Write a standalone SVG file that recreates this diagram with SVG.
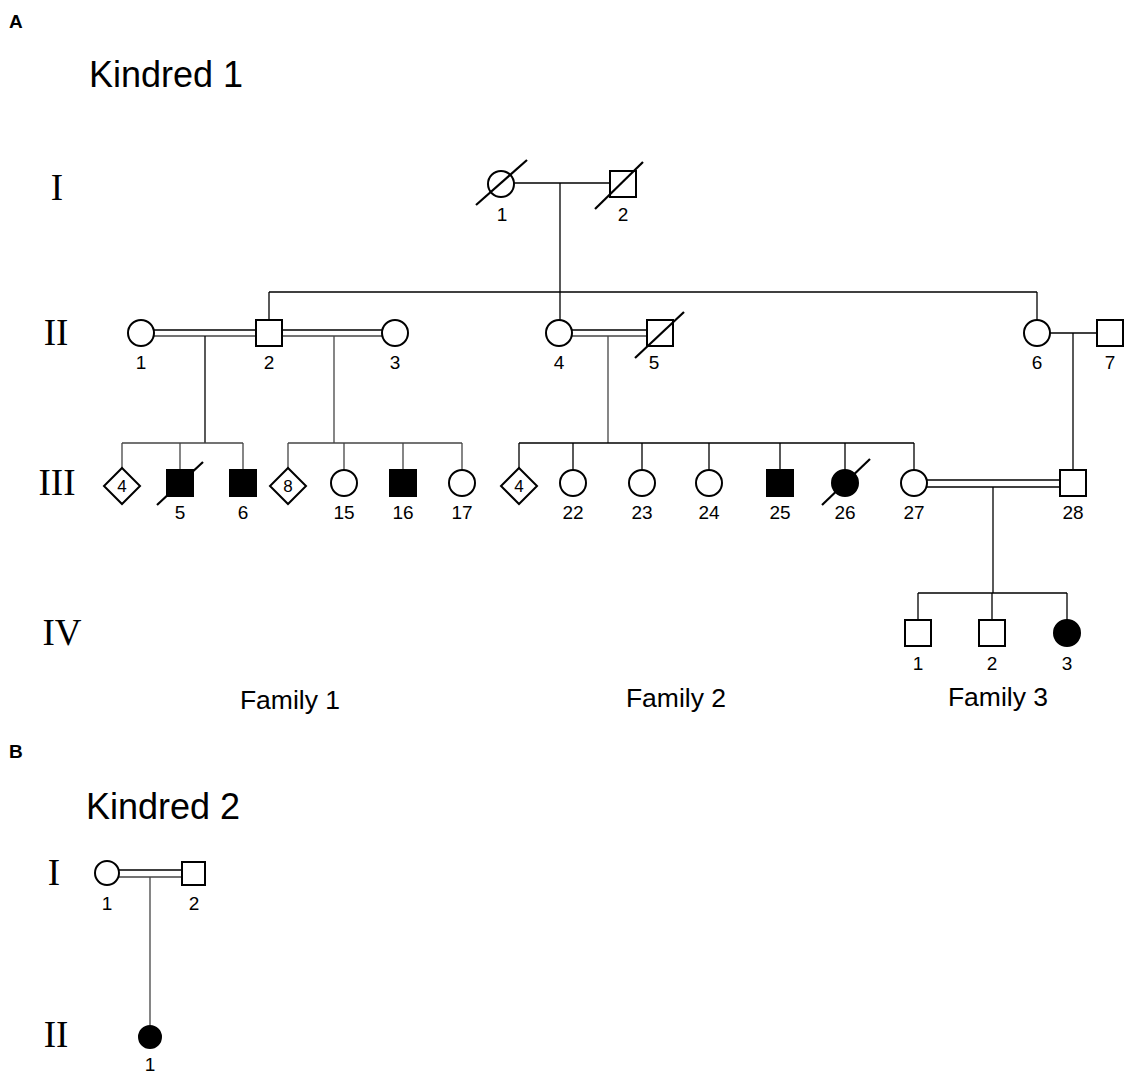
<svg xmlns="http://www.w3.org/2000/svg" width="1127" height="1076" viewBox="0 0 1127 1076">
  <style>
    .sym { fill: #fff; stroke: #000; stroke-width: 2; }
    .aff { fill: #000; stroke: #000; stroke-width: 2; }
    .ln { stroke: #000; stroke-width: 1.3; fill: none; }
    .lg { stroke: #444; stroke-width: 1.3; fill: none; }
    .slash { stroke: #000; stroke-width: 2.2; }
    .lbl { font-family: "Liberation Sans", Arial, sans-serif; font-size: 19px; text-anchor: middle; fill: #000; }
    .in { font-family: "Liberation Sans", Arial, sans-serif; font-size: 17px; text-anchor: middle; fill: #000; }
    .gen { font-family: "Liberation Serif", "Times New Roman", serif; font-size: 37px; text-anchor: middle; fill: #000; }
    .title { font-family: "Liberation Sans", Arial, sans-serif; font-size: 36px; fill: #000; }
    .fam { font-family: "Liberation Sans", Arial, sans-serif; font-size: 26.5px; text-anchor: middle; fill: #000; }
    .panel { font-family: "Liberation Sans", Arial, sans-serif; font-size: 19px; font-weight: bold; fill: #000; }
  </style>

  <!-- panel letters, titles, generation numerals -->
  <text class="panel" x="9" y="28">A</text>
  <text class="panel" x="9" y="758">B</text>
  <text class="title" x="89" y="87">Kindred 1</text>
  <text class="title" x="86" y="819">Kindred 2</text>
  <text class="gen" x="57" y="200">I</text>
  <text class="gen" x="56" y="345">II</text>
  <text class="gen" x="57" y="495">III</text>
  <text class="gen" x="62" y="645">IV</text>
  <text class="gen" x="54" y="885">I</text>
  <text class="gen" x="56" y="1047">II</text>
  <text class="fam" x="290" y="709">Family 1</text>
  <text class="fam" x="676" y="707">Family 2</text>
  <text class="fam" x="998" y="706">Family 3</text>

  <!-- connectors -->
  <g id="connectors">
    <!-- Kindred 1, generation I -->
    <line class="ln" x1="514" y1="183" x2="610" y2="183"/>
    <line class="ln" x1="560" y1="183" x2="560" y2="320"/>
    <line class="ln" x1="269" y1="292" x2="1037" y2="292"/>
    <line class="ln" x1="269" y1="292" x2="269" y2="320"/>
    <line class="ln" x1="1037" y1="292" x2="1037" y2="320"/>
    <!-- II-1 = II-2 = II-3 (consanguineous) -->
    <line class="ln" x1="154" y1="330" x2="256" y2="330"/>
    <line class="lg" x1="154" y1="336" x2="256" y2="336"/>
    <line class="ln" x1="282" y1="330" x2="382" y2="330"/>
    <line class="lg" x1="282" y1="336" x2="382" y2="336"/>
    <line class="ln" x1="205" y1="336" x2="205" y2="443"/>
    <line class="lg" x1="334" y1="336" x2="334" y2="443"/>
    <!-- II-4 = II-5 -->
    <line class="ln" x1="572" y1="330" x2="647" y2="330"/>
    <line class="lg" x1="572" y1="336" x2="647" y2="336"/>
    <line class="lg" x1="608" y1="336" x2="608" y2="443"/>
    <!-- II-6 - II-7 -->
    <line class="ln" x1="1050" y1="333" x2="1097" y2="333"/>
    <line class="ln" x1="1073" y1="333" x2="1073" y2="470"/>
    <!-- Family 1 sibships -->
    <line class="lg" x1="122" y1="443" x2="243" y2="443"/>
    <line class="lg" x1="122" y1="443" x2="122" y2="468"/>
    <line class="lg" x1="180" y1="443" x2="180" y2="470"/>
    <line class="lg" x1="243" y1="443" x2="243" y2="470"/>
    <line class="lg" x1="288" y1="443" x2="462" y2="443"/>
    <line class="lg" x1="288" y1="443" x2="288" y2="468"/>
    <line class="lg" x1="344" y1="443" x2="344" y2="470"/>
    <line class="lg" x1="403" y1="443" x2="403" y2="470"/>
    <line class="lg" x1="462" y1="443" x2="462" y2="470"/>
    <!-- Family 2 sibship -->
    <line class="ln" x1="519" y1="443" x2="914" y2="443"/>
    <line class="ln" x1="519" y1="443" x2="519" y2="468"/>
    <line class="ln" x1="573" y1="443" x2="573" y2="470"/>
    <line class="ln" x1="642" y1="443" x2="642" y2="470"/>
    <line class="ln" x1="709" y1="443" x2="709" y2="470"/>
    <line class="ln" x1="780" y1="443" x2="780" y2="470"/>
    <line class="ln" x1="845" y1="443" x2="845" y2="470"/>
    <line class="ln" x1="914" y1="443" x2="914" y2="470"/>
    <!-- III-27 = III-28 -->
    <line class="ln" x1="927" y1="480" x2="1060" y2="480"/>
    <line class="ln" x1="927" y1="487" x2="1060" y2="487"/>
    <line class="ln" x1="993" y1="487" x2="993" y2="593"/>
    <!-- Family 3 sibship -->
    <line class="ln" x1="918" y1="593" x2="1067" y2="593"/>
    <line class="ln" x1="918" y1="593" x2="918" y2="620"/>
    <line class="ln" x1="992" y1="593" x2="992" y2="620"/>
    <line class="ln" x1="1067" y1="593" x2="1067" y2="620"/>
    <!-- Kindred 2 -->
    <line class="ln" x1="119" y1="870" x2="182" y2="870"/>
    <line class="lg" x1="119" y1="877" x2="182" y2="877"/>
    <line class="lg" x1="150" y1="877" x2="150" y2="1025"/>
  </g>

  <!-- Kindred 1, generation I -->
  <g id="k1-I-1">
    <circle class="sym" cx="501" cy="184" r="13"/>
    <line class="slash" x1="476" y1="205" x2="527" y2="160"/>
    <text class="lbl" x="502" y="221">1</text>
  </g>
  <g id="k1-I-2">
    <rect class="sym" x="610" y="171" width="26" height="26"/>
    <line class="slash" x1="595" y1="209" x2="643" y2="162"/>
    <text class="lbl" x="623" y="221">2</text>
  </g>

  <!-- generation II -->
  <g id="k1-II-1">
    <circle class="sym" cx="141" cy="333" r="13"/>
    <text class="lbl" x="141" y="369">1</text>
  </g>
  <g id="k1-II-2">
    <rect class="sym" x="256" y="320" width="26" height="26"/>
    <text class="lbl" x="269" y="369">2</text>
  </g>
  <g id="k1-II-3">
    <circle class="sym" cx="395" cy="333" r="13"/>
    <text class="lbl" x="395" y="369">3</text>
  </g>
  <g id="k1-II-4">
    <circle class="sym" cx="559" cy="333" r="13"/>
    <text class="lbl" x="559" y="369">4</text>
  </g>
  <g id="k1-II-5">
    <rect class="sym" x="647" y="320" width="26" height="26"/>
    <line class="slash" x1="635" y1="358" x2="684" y2="312"/>
    <text class="lbl" x="654" y="369">5</text>
  </g>
  <g id="k1-II-6">
    <circle class="sym" cx="1037" cy="333" r="13"/>
    <text class="lbl" x="1037" y="369">6</text>
  </g>
  <g id="k1-II-7">
    <rect class="sym" x="1097" y="320" width="26" height="26"/>
    <text class="lbl" x="1110" y="369">7</text>
  </g>

  <!-- generation III, family 1 -->
  <g id="k1-III-d4a">
    <polygon class="sym" points="122,468 140,486 122,504 104,486"/>
    <text class="in" x="122" y="492">4</text>
  </g>
  <g id="k1-III-5">
    <rect class="aff" x="167" y="470" width="26" height="26"/>
    <line class="slash" x1="157" y1="505" x2="203" y2="462"/>
    <text class="lbl" x="180" y="519">5</text>
  </g>
  <g id="k1-III-6">
    <rect class="aff" x="230" y="470" width="26" height="26"/>
    <text class="lbl" x="243" y="519">6</text>
  </g>
  <g id="k1-III-d8">
    <polygon class="sym" points="288,468 306,486 288,504 270,486"/>
    <text class="in" x="288" y="492">8</text>
  </g>
  <g id="k1-III-15">
    <circle class="sym" cx="344" cy="483" r="13"/>
    <text class="lbl" x="344" y="519">15</text>
  </g>
  <g id="k1-III-16">
    <rect class="aff" x="390" y="470" width="26" height="26"/>
    <text class="lbl" x="403" y="519">16</text>
  </g>
  <g id="k1-III-17">
    <circle class="sym" cx="462" cy="483" r="13"/>
    <text class="lbl" x="462" y="519">17</text>
  </g>

  <!-- generation III, family 2 -->
  <g id="k1-III-d4b">
    <polygon class="sym" points="519,468 537,486 519,504 501,486"/>
    <text class="in" x="519" y="492">4</text>
  </g>
  <g id="k1-III-22">
    <circle class="sym" cx="573" cy="483" r="13"/>
    <text class="lbl" x="573" y="519">22</text>
  </g>
  <g id="k1-III-23">
    <circle class="sym" cx="642" cy="483" r="13"/>
    <text class="lbl" x="642" y="519">23</text>
  </g>
  <g id="k1-III-24">
    <circle class="sym" cx="709" cy="483" r="13"/>
    <text class="lbl" x="709" y="519">24</text>
  </g>
  <g id="k1-III-25">
    <rect class="aff" x="767" y="470" width="26" height="26"/>
    <text class="lbl" x="780" y="519">25</text>
  </g>
  <g id="k1-III-26">
    <circle class="aff" cx="845" cy="483" r="13"/>
    <line class="slash" x1="822" y1="505" x2="870" y2="459"/>
    <text class="lbl" x="845" y="519">26</text>
  </g>
  <g id="k1-III-27">
    <circle class="sym" cx="914" cy="483" r="13"/>
    <text class="lbl" x="914" y="519">27</text>
  </g>
  <g id="k1-III-28">
    <rect class="sym" x="1060" y="470" width="26" height="26"/>
    <text class="lbl" x="1073" y="519">28</text>
  </g>

  <!-- generation IV, family 3 -->
  <g id="k1-IV-1">
    <rect class="sym" x="905" y="620" width="26" height="26"/>
    <text class="lbl" x="918" y="670">1</text>
  </g>
  <g id="k1-IV-2">
    <rect class="sym" x="979" y="620" width="26" height="26"/>
    <text class="lbl" x="992" y="670">2</text>
  </g>
  <g id="k1-IV-3">
    <circle class="aff" cx="1067" cy="633" r="13"/>
    <text class="lbl" x="1067" y="670">3</text>
  </g>

  <!-- Kindred 2 -->
  <g id="k2-I-1">
    <circle class="sym" cx="107" cy="873" r="12"/>
    <text class="lbl" x="107" y="910">1</text>
  </g>
  <g id="k2-I-2">
    <rect class="sym" x="182" y="862" width="23" height="23"/>
    <text class="lbl" x="194" y="910">2</text>
  </g>
  <g id="k2-II-1">
    <circle class="aff" cx="150" cy="1037" r="11"/>
    <text class="lbl" x="150" y="1071">1</text>
  </g>
</svg>
